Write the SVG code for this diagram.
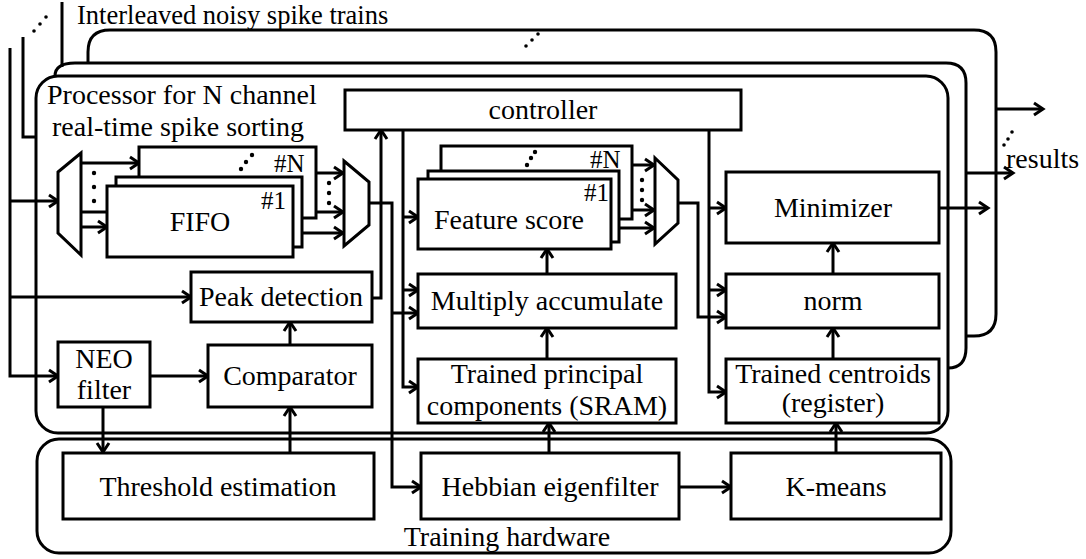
<svg xmlns="http://www.w3.org/2000/svg" width="1086" height="559" viewBox="0 0 1086 559" font-family="'Liberation Serif', 'DejaVu Serif', serif">
<defs>
<marker id="ah" markerUnits="userSpaceOnUse" markerWidth="14" markerHeight="14" refX="10" refY="6" orient="auto" overflow="visible">
<path d="M1,0 L10,6 L1,12" fill="none" stroke="#000" stroke-width="3"/>
</marker>
</defs>
<style>
.b{fill:#fff;stroke:#000;stroke-width:3}
.p{fill:none;stroke:#000;stroke-width:3}
.c{fill:none;stroke:#000;stroke-width:3}
.a{marker-end:url(#ah)}
text{font-family:'Liberation Serif','DejaVu Serif',serif;font-size:28px;fill:#000}
.m{text-anchor:middle}
.s{font-size:25px}
.t{font-size:26.5px}
.d{fill:#000}
</style>
<rect width="1086" height="559" fill="#fff"/>
<g id="panels">
<path class="p" d="M88,62 V52 Q88,30 110,30 H974 Q996,30 996,52 V314 Q996,336 974,336 H966"/>
<path class="p" d="M55,76 Q55,63 75,63 H946 Q966,63 966,83 V348 Q966,368 948,368"/>
<rect class="b" x="36" y="76" width="912" height="357" rx="22"/>
<rect class="b" x="37" y="439" width="914" height="114" rx="22"/>
<text x="47" y="104">Processor for N channel</text>
<text x="52" y="136">real-time spike sorting</text>
<text class="m" x="507" y="546">Training hardware</text>
<text class="t" x="77" y="24">Interleaved noisy spike trains</text>
<text x="1006" y="168">results</text>
<circle class="d" cx="34" cy="31" r="1.8"/><circle class="d" cx="40" cy="24" r="1.8"/><circle class="d" cx="46" cy="17" r="1.8"/>
<circle class="d" cx="526" cy="46" r="1.8"/><circle class="d" cx="532" cy="40" r="1.8"/><circle class="d" cx="538" cy="34" r="1.8"/>
<circle class="d" cx="1004" cy="145" r="1.8"/><circle class="d" cx="1008" cy="139" r="1.8"/><circle class="d" cx="1012" cy="132" r="1.8"/>
</g>
<g id="connectors">
<path class="c" d="M62,2 V67"/>
<path class="c" d="M23,37 V137 H36"/>
<path class="c a" d="M10,48 V376 H58"/>
<path class="c a" d="M10,201 H58"/>
<path class="c a" d="M10,297 H191"/>
<path class="c a" d="M81,163 H139"/>
<path class="c" d="M81,212 H107"/>
<path class="c a" d="M81,227 H107"/>
<path class="c a" d="M316,173 H343"/>
<path class="c a" d="M302,212 H343"/>
<path class="c a" d="M293,233 H343"/>
<path class="c a" d="M369,203 H392 V487 H421"/>
<path class="c a" d="M392,313 H418"/>
<path class="c a" d="M372,298 H381 V130"/>
<path class="c a" d="M403,130 V387 H418"/>
<path class="c a" d="M403,217 H418"/>
<path class="c a" d="M403,290 H418"/>
<path class="c a" d="M632,165 H654"/>
<path class="c a" d="M619,210 H654"/>
<path class="c a" d="M611,228 H654"/>
<path class="c a" d="M678,203 H698 V317 H726"/>
<path class="c a" d="M709,130 V392 H726"/>
<path class="c a" d="M709,208 H726"/>
<path class="c a" d="M709,290 H726"/>
<path class="c a" d="M547,274 V249"/>
<path class="c a" d="M547,359 V328"/>
<path class="c a" d="M549,455 V423"/>
<path class="c a" d="M833,274 V243"/>
<path class="c a" d="M833,359 V328"/>
<path class="c a" d="M836,455 V423"/>
<path class="c a" d="M939,208 H988"/>
<path class="c a" d="M966,173 H1013"/>
<path class="c a" d="M996,109 H1043"/>
<path class="c a" d="M150,376 H208"/>
<path class="c a" d="M290,345 V322"/>
<path class="c a" d="M103,407 V452"/>
<path class="c a" d="M290,455 V407"/>
<path class="c a" d="M679,487 H731"/>
<circle class="d" cx="94" cy="173" r="2.2"/><circle class="d" cx="94" cy="187" r="2.2"/><circle class="d" cx="94" cy="201" r="2.2"/>
<circle class="d" cx="329" cy="183" r="2.2"/><circle class="d" cx="329" cy="193" r="2.2"/><circle class="d" cx="329" cy="203" r="2.2"/>
<circle class="d" cx="642" cy="180" r="2.2"/><circle class="d" cx="642" cy="190" r="2.2"/><circle class="d" cx="642" cy="200" r="2.2"/>
</g>
<g id="demux"><polygon class="b" points="58,172 81,153 81,255 58,233"/></g>
<g id="mux1"><polygon class="b" points="344,161 369,182 369,225 344,246"/></g>
<g id="mux2"><polygon class="b" points="655,158 678,180 678,223 655,244"/></g>
<g id="fifo">
<rect class="b" x="139" y="147" width="177" height="71"/>
<text class="s" x="274" y="172">#N</text>
<circle class="d" cx="241" cy="169" r="2.2"/><circle class="d" cx="246" cy="162" r="2.2"/><circle class="d" cx="252" cy="155" r="2.2"/>
<rect class="b" x="116" y="177" width="186" height="70"/>
<rect class="b" x="107" y="186" width="186" height="71"/>
<text class="s" x="261" y="209">#1</text>
<text class="m" x="200" y="231">FIFO</text>
</g>
<g id="controller"><rect class="b" x="345" y="90" width="396" height="40"/><text class="m" x="543" y="119">controller</text></g>
<g id="feature">
<rect class="b" x="441" y="146" width="191" height="73"/>
<text class="s" x="590" y="168">#N</text>
<circle class="d" cx="527" cy="165" r="2.2"/><circle class="d" cx="531" cy="158" r="2.2"/><circle class="d" cx="535" cy="152" r="2.2"/>
<rect class="b" x="428" y="171" width="191" height="71"/>
<rect class="b" x="418" y="179" width="193" height="70"/>
<text class="s" x="584" y="201">#1</text>
<text class="m" x="509" y="229">Feature score</text>
</g>
<g id="peak"><rect class="b" x="191" y="272" width="181" height="50"/><text class="m" x="281" y="306">Peak detection</text></g>
<g id="neo"><rect class="b" x="58" y="342" width="92" height="65"/><text class="m" x="104" y="368">NEO</text><text class="m" x="104" y="399">filter</text></g>
<g id="comparator"><rect class="b" x="208" y="345" width="164" height="62"/><text class="m" x="290" y="385">Comparator</text></g>
<g id="mac"><rect class="b" x="418" y="274" width="258" height="54"/><text class="m" x="547" y="310">Multiply accumulate</text></g>
<g id="tpc"><rect class="b" x="418" y="359" width="258" height="64"/><text class="m" x="547" y="383">Trained principal</text><text class="m" x="547" y="415">components (SRAM)</text></g>
<g id="minimizer"><rect class="b" x="726" y="172" width="213" height="71"/><text class="m" x="833" y="217">Minimizer</text></g>
<g id="norm"><rect class="b" x="726" y="274" width="213" height="54"/><text class="m" x="833" y="310">norm</text></g>
<g id="tc"><rect class="b" x="726" y="359" width="213" height="64"/><text class="m" x="833" y="383">Trained centroids</text><text class="m" x="833" y="412">(register)</text></g>
<g id="threshold"><rect class="b" x="63" y="453" width="311" height="66"/><text class="m" x="218" y="496">Threshold estimation</text></g>
<g id="hebbian"><rect class="b" x="421" y="453" width="258" height="66"/><text class="m" x="550" y="496">Hebbian eigenfilter</text></g>
<g id="kmeans"><rect class="b" x="731" y="453" width="210" height="66"/><text class="m" x="836" y="496">K-means</text></g>
</svg>
